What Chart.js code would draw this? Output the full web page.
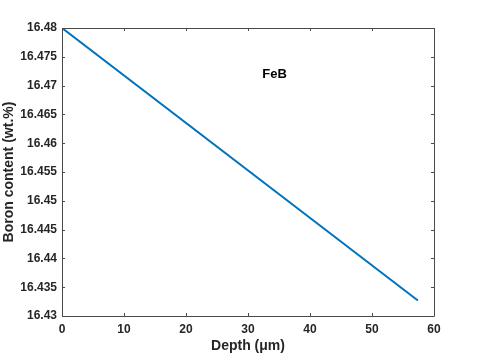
<!DOCTYPE html>
<html><head><meta charset="utf-8">
<script src="https://cdn.jsdelivr.net/npm/chart.js@4/dist/chart.umd.min.js"></script>
<style>html,body{margin:0;padding:0;background:#fff}#wrap{width:480px;height:355px}</style>
</head><body><div id="wrap"><canvas id="c" width="480" height="355"></canvas></div>
<script>
const depth = [0, 57.4];
const boron = [16.48, 16.4327];
const xTicks = [0, 10, 20, 30, 40, 50, 60];
const yTicks = [16.43, 16.435, 16.44, 16.445, 16.45, 16.455, 16.46, 16.465, 16.47, 16.475, 16.48];
const labelText = 'FeB';
const labelPos = [32.3, 16.472];

const FONT = '"Liberation Sans", Arial, sans-serif';
const AX = '#262626';

const boxPlugin = {
  id: 'box',
  afterDraw(chart) {
    const {ctx, chartArea: a, scales: {x, y}} = chart;
    ctx.save();
    ctx.strokeStyle = '#4a4a4a';
    ctx.lineWidth = 1;
    ctx.beginPath();
    ctx.rect(Math.round(a.left) + 0.5, Math.round(a.top) + 0.5, Math.round(a.right - a.left), Math.round(a.bottom - a.top));
    ctx.stroke();
    ctx.beginPath();
    const t = 3;
    xTicks.forEach(v => {
      const px = Math.round(x.getPixelForValue(v)) + 0.5;
      ctx.moveTo(px, a.bottom); ctx.lineTo(px, a.bottom - t);
      ctx.moveTo(px, a.top); ctx.lineTo(px, a.top + t);
    });
    yTicks.forEach(v => {
      const py = Math.round(y.getPixelForValue(v)) + 0.5;
      ctx.moveTo(a.left, py); ctx.lineTo(a.left + t, py);
      ctx.moveTo(a.right, py); ctx.lineTo(a.right - t, py);
    });
    ctx.stroke();
    ctx.fillStyle = '#000';
    ctx.font = 'bold 13px ' + FONT;
    ctx.textAlign = 'left';
    ctx.textBaseline = 'middle';
    ctx.fillText(labelText, x.getPixelForValue(labelPos[0]), y.getPixelForValue(labelPos[1]));
    ctx.restore();
  }
};

new Chart(document.getElementById('c'), {
  type: 'scatter',
  data: {
    datasets: [{
      data: depth.map((d, i) => ({x: d, y: boron[i]})),
      showLine: true,
      borderColor: '#0072BD',
      borderWidth: 2,
      pointRadius: 0,
      fill: false
    }]
  },
  options: {
    responsive: false,
    animation: false,
    layout: {padding: {left: 0, right: 46, top: 28, bottom: 0}},
    plugins: {legend: {display: false}, tooltip: {enabled: false}},
    scales: {
      x: {
        type: 'linear', min: 0, max: 60,
        afterBuildTicks: s => { s.ticks = xTicks.map(v => ({value: v})); },
        afterFit: s => { s.height = 39; },
        grid: {display: false, drawTicks: false},
        border: {display: false},
        ticks: {color: AX, font: {family: FONT, size: 12, weight: 'bold'}, padding: 6, maxRotation: 0,
          callback: v => String(v)},
        title: {display: true, text: 'Depth (μm)', color: AX, font: {family: FONT, size: 14, weight: 'bold'}, padding: {top: 0, bottom: 0}}
      },
      y: {
        type: 'linear', min: 16.43, max: 16.48,
        afterBuildTicks: s => { s.ticks = yTicks.map(v => ({value: v})); },
        afterFit: s => { s.width = 62; },
        grid: {display: false, drawTicks: false},
        border: {display: false},
        ticks: {color: AX, font: {family: FONT, size: 12, weight: 'bold'}, padding: 5,
          callback: v => String(parseFloat(v.toFixed(3)))},
        title: {display: true, text: 'Boron content (wt.%)', color: AX, font: {family: FONT, size: 14, weight: 'bold'}, padding: {top: 1, bottom: 0}}
      }
    }
  },
  plugins: [boxPlugin]
});
</script></body></html>
